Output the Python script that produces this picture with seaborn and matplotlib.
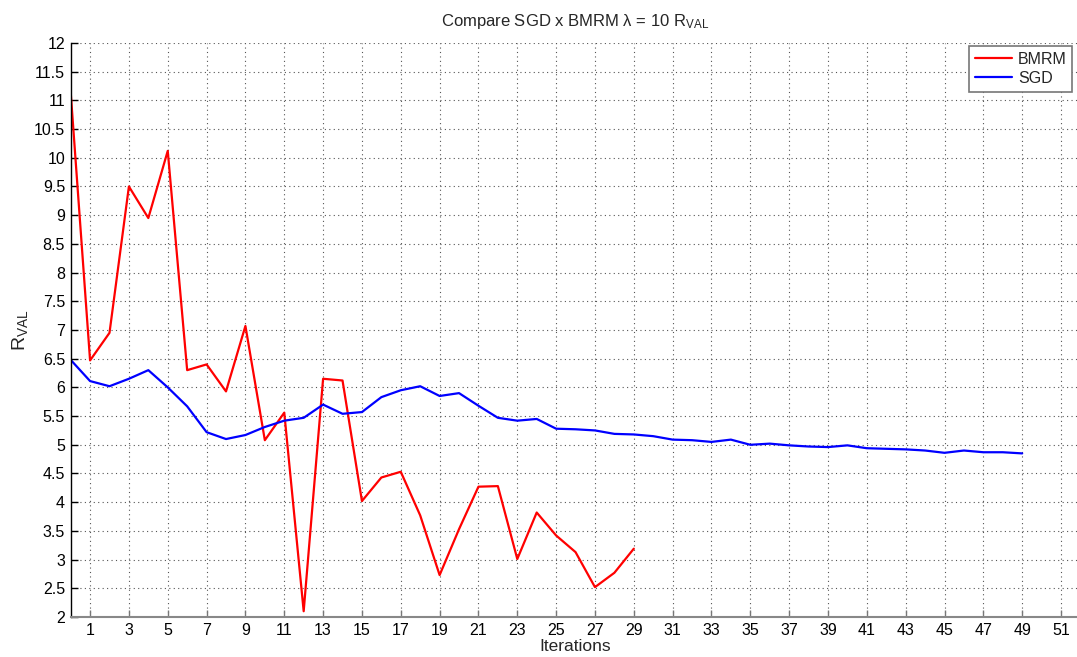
import numpy as np
import pandas as pd
import matplotlib
matplotlib.use("Agg")
import matplotlib.pyplot as plt
import seaborn as sns

# Validation risk per iteration for each solver
bmrm_iter = list(range(0, 30))
bmrm_rval = [11.15, 6.47, 6.95, 9.50, 8.95, 10.12, 6.30, 6.40, 5.93, 7.07,
             5.08, 5.56, 2.10, 6.15, 6.12, 4.02, 4.43, 4.53, 3.77, 2.73,
             3.53, 4.27, 4.28, 3.01, 3.82, 3.42, 3.13, 2.52, 2.77, 3.19]

sgd_iter = list(range(0, 50))
sgd_rval = [6.48, 6.11, 6.02, 6.15, 6.30, 6.00, 5.67, 5.22, 5.10, 5.17,
            5.31, 5.42, 5.47, 5.70, 5.54, 5.57, 5.83, 5.95, 6.02, 5.85,
            5.90, 5.68, 5.47, 5.42, 5.45, 5.28, 5.27, 5.25, 5.19, 5.18,
            5.15, 5.09, 5.08, 5.05, 5.09, 5.00, 5.02, 4.99, 4.97, 4.96,
            4.99, 4.94, 4.93, 4.92, 4.90, 4.86, 4.90, 4.87, 4.87, 4.85]

series_names = ["BMRM", "SGD"]
series_colors = {"BMRM": "#ff0000", "SGD": "#0000ff"}

x_ticks = list(range(1, 52, 2))
y_ticks = list(np.arange(2, 12.01, 0.5))
y_tick_labels = ["2", "2.5", "3", "3.5", "4", "4.5", "5", "5.5", "6", "6.5", "7",
                 "7.5", "8", "8.5", "9", "9.5", "10", "10.5", "11", "11.5", "12"]

df = pd.concat([
    pd.DataFrame({"Iterations": bmrm_iter, "rval": bmrm_rval, "solver": "BMRM"}),
    pd.DataFrame({"Iterations": sgd_iter, "rval": sgd_rval, "solver": "SGD"}),
], ignore_index=True)

sns.set_style("white")
plt.rcParams["font.family"] = ["Liberation Sans", "DejaVu Sans"]
plt.rcParams["mathtext.fontset"] = "custom"
plt.rcParams["mathtext.rm"] = "Liberation Sans"
plt.rcParams["mathtext.it"] = "Liberation Sans"

fig = plt.figure(figsize=(10.77, 6.57), dpi=100)
ax = fig.add_axes([0.0656, 0.0609, 0.9376, 0.8737])

sns.lineplot(data=df, x="Iterations", y="rval", hue="solver",
             hue_order=series_names, palette=series_colors,
             linewidth=1.6, ax=ax, estimator=None, sort=False)

ax.set_xlim(0, 52)
ax.set_ylim(2, 12)
ax.set_xticks(x_ticks)
ax.set_xticklabels([str(t) for t in x_ticks], fontsize=11.5)
ax.set_yticks(y_ticks)
ax.set_yticklabels(y_tick_labels, fontsize=11.5)

ax.grid(True, linestyle=(0, (1, 3)), color="#555555", linewidth=0.8)
ax.tick_params(direction="in", length=5, width=1, colors="black",
               left=True, bottom=True, pad=4)
ax.tick_params(axis="x", color="#777777")

for side in ["top", "right"]:
    ax.spines[side].set_visible(False)
ax.spines["left"].set_color("black")
ax.spines["left"].set_linewidth(1)
ax.spines["bottom"].set_color("#888888")
ax.spines["bottom"].set_linewidth(1.5)

ax.set_xlabel("Iterations", fontsize=12.5, labelpad=1)
ax.set_ylabel(r"R$_{\mathrm{VAL}}$", fontsize=14, labelpad=3)
ax.set_title(r"Compare SGD x BMRM λ = 10 R$_{\mathrm{VAL}}$", fontsize=12, pad=12)

leg = ax.legend(loc="upper right", bbox_to_anchor=(0.992, 0.994),
                fontsize=11.5, frameon=True, fancybox=False,
                handlelength=2.3, borderpad=0.35, labelspacing=0.25,
                handletextpad=0.4, borderaxespad=0)
leg.get_frame().set_edgecolor("#777777")
leg.get_frame().set_linewidth(1.2)
leg.get_frame().set_alpha(1)

fig.savefig("out.png", dpi=100)
